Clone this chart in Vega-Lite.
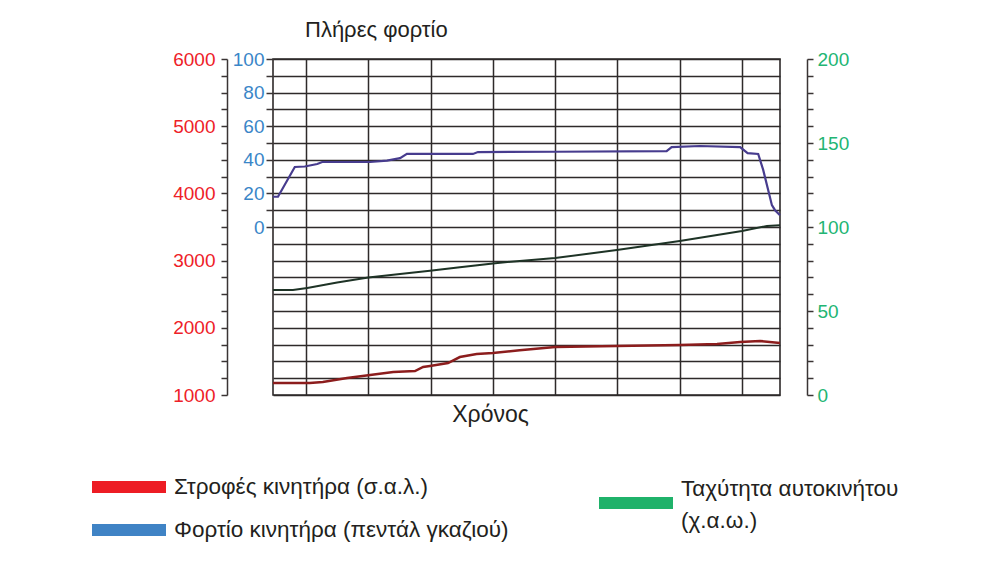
{
  "$schema": "https://vega.github.io/schema/vega-lite/v6.json",
  "autosize": "none",
  "width": 507,
  "height": 336,
  "padding": {"left": 273, "top": 59, "right": 208, "bottom": 171},
  "background": "white",
  "config": {
    "view": {"stroke": "#2e2a2a", "strokeWidth": 1.6},
    "font": "Liberation Sans",
    "axis": {
      "labelFont": "Liberation Sans",
      "labelFontSize": 19,
      "tickColor": "#3a3434",
      "domainColor": "#3a3434",
      "tickWidth": 1.5,
      "domainWidth": 1.5,
      "gridColor": "#2e2a2a",
      "gridWidth": 1.5,
      "gridOpacity": 1
    },
    "legend": {
      "orient": "none",
      "padding": 0,
      "labelFont": "Liberation Sans",
      "labelFontSize": 22.5,
      "labelColor": "#231f20",
      "labelLimit": 500,
      "labelOffset": 8,
      "symbolOffset": 0,
      "symbolOpacity": 1,
      "symbolStrokeWidth": 0,
      "symbolType": "M-1,-0.162L1,-0.162L1,0.162L-1,0.162Z",
      "symbolSize": 5476
    }
  },
  "title": {
    "text": "Πλήρες φορτίο",
    "anchor": "start",
    "frame": "group",
    "dx": 32,
    "dy": 19,
    "offset": 10,
    "baseline": "alphabetic",
    "fontSize": 22,
    "fontWeight": "normal",
    "color": "#231f20",
    "font": "Liberation Sans"
  },
  "datasets": {
    "load": [
      {"t": -0.53, "v": 18}, {"t": -0.45, "v": 18}, {"t": -0.18, "v": 35.7}, {"t": -0.02, "v": 36},
      {"t": 0.18, "v": 37.5}, {"t": 0.26, "v": 38.7}, {"t": 1.03, "v": 38.7}, {"t": 1.30, "v": 39.5},
      {"t": 1.51, "v": 41}, {"t": 1.62, "v": 43.5}, {"t": 2.68, "v": 43.5}, {"t": 2.76, "v": 44.6},
      {"t": 4.0, "v": 44.8}, {"t": 5.79, "v": 45.2}, {"t": 5.87, "v": 47.6}, {"t": 6.32, "v": 48.2},
      {"t": 6.97, "v": 47.6}, {"t": 7.09, "v": 44}, {"t": 7.26, "v": 43.5}, {"t": 7.34, "v": 34},
      {"t": 7.42, "v": 22}, {"t": 7.48, "v": 13}, {"t": 7.53, "v": 10}, {"t": 7.61, "v": 7}
    ],
    "speed": [
      {"t": -0.53, "v": 62.5}, {"t": -0.21, "v": 62.5}, {"t": 0.02, "v": 63.7}, {"t": 0.5, "v": 67},
      {"t": 1.0, "v": 70}, {"t": 1.51, "v": 72}, {"t": 1.99, "v": 74}, {"t": 2.47, "v": 76},
      {"t": 3.0, "v": 78.3}, {"t": 3.43, "v": 79.8}, {"t": 4.0, "v": 81.5}, {"t": 4.99, "v": 86.3},
      {"t": 6.0, "v": 91.7}, {"t": 7.0, "v": 97.6}, {"t": 7.4, "v": 100.6}, {"t": 7.61, "v": 101}
    ],
    "rpm": [
      {"t": -0.53, "v": 1180}, {"t": 0.06, "v": 1180}, {"t": 0.27, "v": 1193}, {"t": 0.66, "v": 1253},
      {"t": 1.03, "v": 1298}, {"t": 1.40, "v": 1342}, {"t": 1.75, "v": 1357}, {"t": 1.88, "v": 1417},
      {"t": 1.99, "v": 1432}, {"t": 2.28, "v": 1476}, {"t": 2.47, "v": 1565}, {"t": 2.74, "v": 1610},
      {"t": 3.0, "v": 1625}, {"t": 3.43, "v": 1665}, {"t": 4.0, "v": 1714}, {"t": 4.99, "v": 1729},
      {"t": 6.0, "v": 1744}, {"t": 6.6, "v": 1759}, {"t": 6.97, "v": 1789}, {"t": 7.29, "v": 1804},
      {"t": 7.61, "v": 1774}
    ],
    "legA": [
      {"series": "Στροφές κινητήρα (σ.α.λ.)"},
      {"series": "Φορτίο κινητήρα (πεντάλ γκαζιού)"}
    ],
    "legB": [
      {"series": "Ταχύτητα αυτοκινήτου"}
    ]
  },
  "layer": [
    {
      "data": {"name": "rpm"},
      "mark": {"type": "line", "color": "#8c1d1d", "strokeWidth": 2.5},
      "encoding": {
        "x": {
          "field": "t", "type": "quantitative",
          "scale": {"domain": [-0.53, 7.61], "nice": false, "zero": false},
          "axis": {
            "values": [0, 1, 2, 3, 4, 5, 6, 7],
            "labels": false, "ticks": false, "domain": false, "grid": true,
            "title": "Χρόνος", "titleFontSize": 23, "titleFontWeight": "normal",
            "titleColor": "#231f20", "titleFont": "Liberation Sans",
            "titlePadding": 8, "titleX": 217
          }
        },
        "y": {
          "field": "v", "type": "quantitative",
          "scale": {"domain": [1000, 6000], "nice": false, "zero": false},
          "axis": {
            "orient": "left", "offset": 46, "title": null,
            "values": [1000, 1250, 1500, 1750, 2000, 2250, 2500, 2750, 3000, 3250, 3500, 3750, 4000, 4250, 4500, 4750, 5000, 5250, 5500, 5750, 6000],
            "format": "d",
            "labelExpr": "datum.value % 1000 == 0 ? datum.label : ''",
            "labelColor": "#ee2128", "tickSize": 6, "labelPadding": 6,
            "grid": true, "domain": true
          }
        }
      }
    },
    {
      "data": {"name": "load"},
      "mark": {"type": "line", "color": "#473c8e", "strokeWidth": 2.2},
      "encoding": {
        "x": {"field": "t", "type": "quantitative"},
        "y": {
          "field": "v", "type": "quantitative",
          "scale": {"domain": [-100, 100], "nice": false, "zero": false},
          "axis": {
            "orient": "left", "offset": 0, "title": null,
            "values": [0, 10, 20, 30, 40, 50, 60, 70, 80, 90, 100],
            "labelExpr": "datum.value % 20 == 0 ? datum.label : ''",
            "labelColor": "#3a86c8", "tickSize": 7, "labelPadding": 2,
            "grid": false, "domain": false
          }
        }
      }
    },
    {
      "data": {"name": "speed"},
      "mark": {"type": "line", "color": "#1e3326", "strokeWidth": 2},
      "encoding": {
        "x": {"field": "t", "type": "quantitative"},
        "y": {
          "field": "v", "type": "quantitative",
          "scale": {"domain": [0, 200], "nice": false, "zero": false},
          "axis": {
            "orient": "right", "offset": 27, "title": null,
            "values": [0, 10, 20, 30, 40, 50, 60, 70, 80, 90, 100, 110, 120, 130, 140, 150, 160, 170, 180, 190, 200],
            "labelExpr": "datum.value % 50 == 0 ? datum.label : ''",
            "labelColor": "#22b573", "tickSize": 6, "labelPadding": 4,
            "grid": false, "domain": true
          }
        }
      }
    },
    {
      "data": {"name": "legA"},
      "mark": {"type": "point", "filled": true, "opacity": 0},
      "encoding": {
        "color": {
          "field": "series", "type": "nominal",
          "scale": {"domain": ["Στροφές κινητήρα (σ.α.λ.)", "Φορτίο κινητήρα (πεντάλ γκαζιού)"], "range": ["#ed1c24", "#3f83c5"]},
          "legend": {"title": null, "legendX": -181, "legendY": 418, "direction": "vertical", "clipHeight": 20, "rowPadding": 20}
        }
      }
    },
    {
      "data": {"name": "legB"},
      "mark": {"type": "point", "filled": true, "opacity": 0},
      "encoding": {
        "fill": {
          "field": "series", "type": "nominal",
          "scale": {"domain": ["Ταχύτητα αυτοκινήτου"], "range": ["#1fb26a"]},
          "legend": {
            "title": null, "legendX": 326, "legendY": 407, "direction": "vertical",
            "labelExpr": "['Ταχύτητα αυτοκινήτου', '(χ.α.ω.)']",
            "encode": {"labels": {"update": {"lineHeight": {"value": 32}, "dy": {"value": -14}}}}
          }
        }
      }
    }
  ],
  "resolve": {"scale": {"y": "independent"}}
}
